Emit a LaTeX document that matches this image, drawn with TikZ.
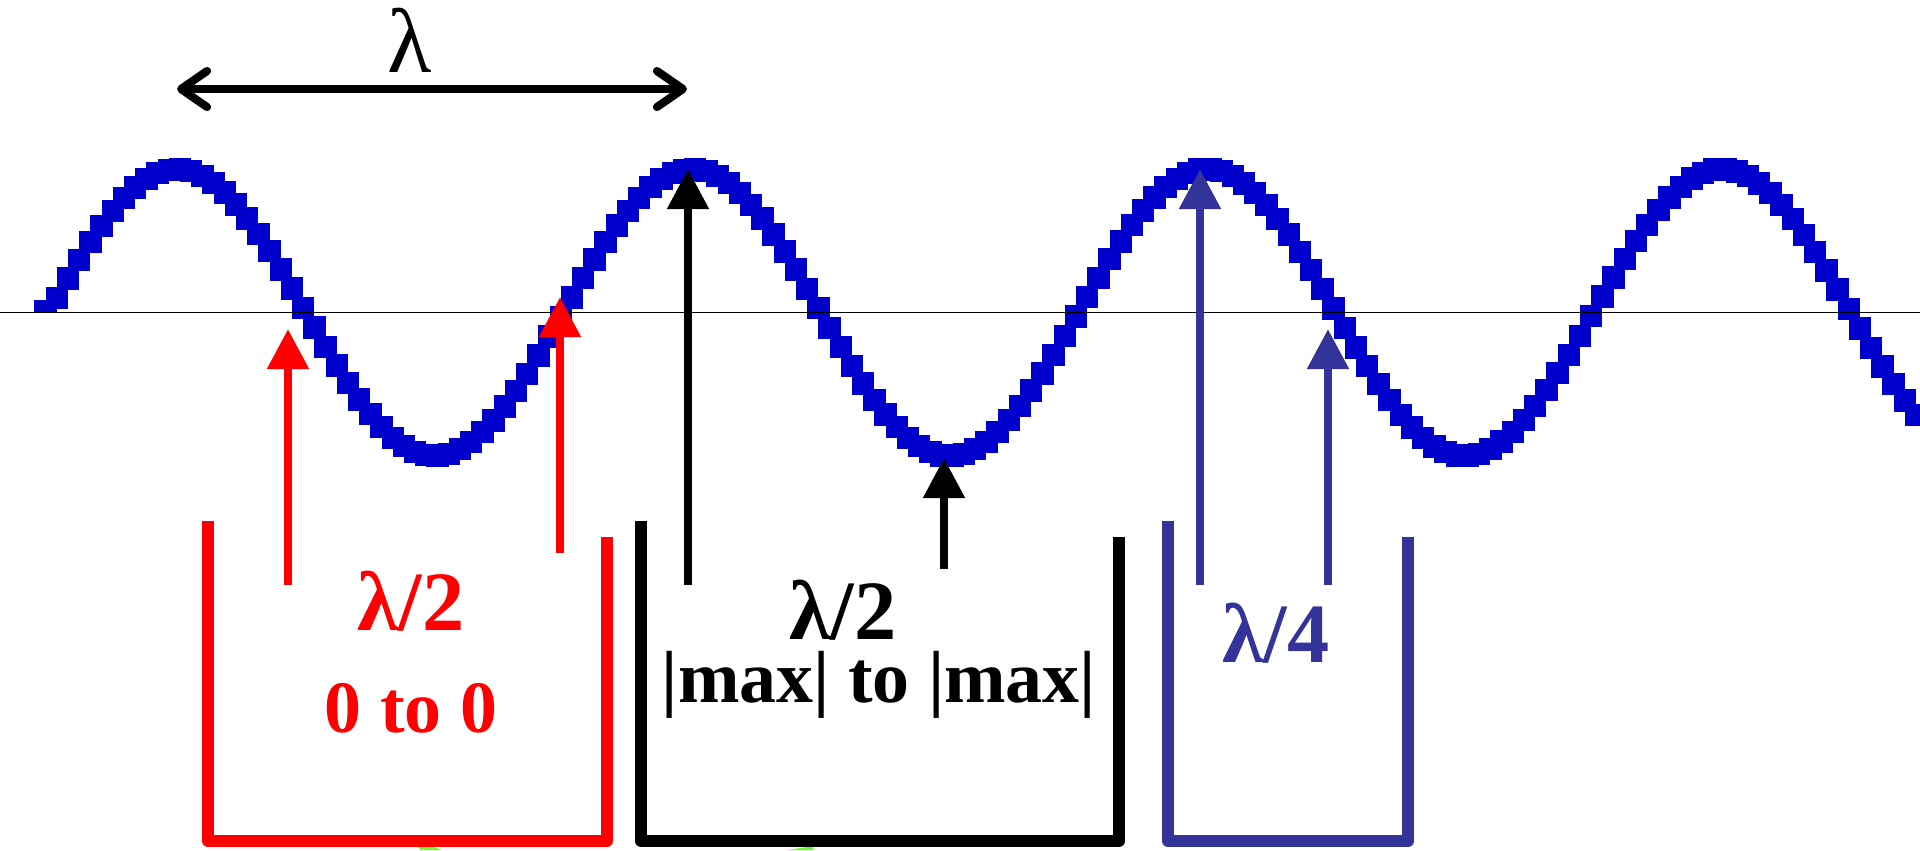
\documentclass[tikz,border=0pt]{standalone}
\usepackage{fontspec}
\setmainfont{Liberation Serif}
\usepackage{xcolor}
\usetikzlibrary{arrows.meta}
\definecolor{wavecol}{HTML}{0000CC}
\definecolor{navy}{HTML}{333399}
\definecolor{lime}{HTML}{66FF33}
\tikzset{
  ptr/.style={line width=2.3pt, -{Triangle[length=0.4cm,width=0.4cm]}},
  cup/.style={line width=3.4pt, line join=round},
  lbl/.style={anchor=base, inner sep=0pt, font=\bfseries\fontsize{24}{28}\selectfont},
  sublbl/.style={anchor=base, inner sep=0pt, font=\bfseries\fontsize{21}{25}\selectfont}
}
\begin{document}
\begin{tikzpicture}[x=0.01cm, y=-0.01cm]
\useasboundingbox (0,0) rectangle (1920,850);
\fill[wavecol] (34,300) rectangle (57,312.5);
\foreach \k in {1,...,167} {
    \pgfmathsetmacro{\cx}{45.5+11.2*\k}
    \pgfmathsetmacro{\cy}{312.5-143.5*sin(0.69903*(\cx-48.25))}
    \fill[wavecol] (\cx-11.2,\cy-11.2) rectangle (\cx+11.2,\cy+11.2);
}
\draw[line width=0.5pt] (0,312.5) -- (1920,312.5);

\coordinate (wl) at (177,89);
\coordinate (wr) at (687,89);
\draw[line width=2.3pt, {Straight Barb[round,length=0.26cm,width=0.36cm]}-{Straight Barb[round,length=0.26cm,width=0.36cm]}] (wl) -- (wr);
\node[anchor=base, inner sep=0pt, font=\fontsize{26}{30}\selectfont] (lam) at (410,72) {λ};

\fill[lime] (417,841) -- (442,850) -- (420,850) -- cycle;
\fill[lime] (787,850) -- (813,846) -- (813,850) -- cycle;

\draw[cup, red] (208,521) -- (208,841) -- (607,841) -- (607,537);
\draw[cup, black] (641,521) -- (641,841) -- (1119,841) -- (1119,537);
\draw[cup, navy] (1168,521) -- (1168,841) -- (1408,841) -- (1408,537);

\coordinate (r1s) at (288,585); \coordinate (r1e) at (288,329);
\coordinate (r2s) at (560,553); \coordinate (r2e) at (560,297);
\coordinate (k1s) at (688,585); \coordinate (k1e) at (688,169);
\coordinate (k2s) at (944,569); \coordinate (k2e) at (944,458);
\coordinate (b1s) at (1200,585); \coordinate (b1e) at (1200,169);
\coordinate (b2s) at (1328,585); \coordinate (b2e) at (1328,329);
\draw[ptr, red] (r1s) -- (r1e);
\draw[ptr, red] (r2s) -- (r2e);
\draw[ptr, black] (k1s) -- (k1e);
\draw[ptr, black] (k2s) -- (k2e);
\draw[ptr, navy] (b1s) -- (b1e);
\draw[ptr, navy] (b2s) -- (b2e);

\node[lbl, red] (half0) at (411,630) {λ/2};
\node[sublbl, red] (zero) at (411,732) {0 to 0};
\node[lbl, black] (halfmax) at (843,639) {λ/2};
\node[sublbl, black] (maxmax) at (879,702) {|max| to |max|};
\node[lbl, navy] (quarter) at (1276,662) {λ/4};
\end{tikzpicture}
\end{document}
